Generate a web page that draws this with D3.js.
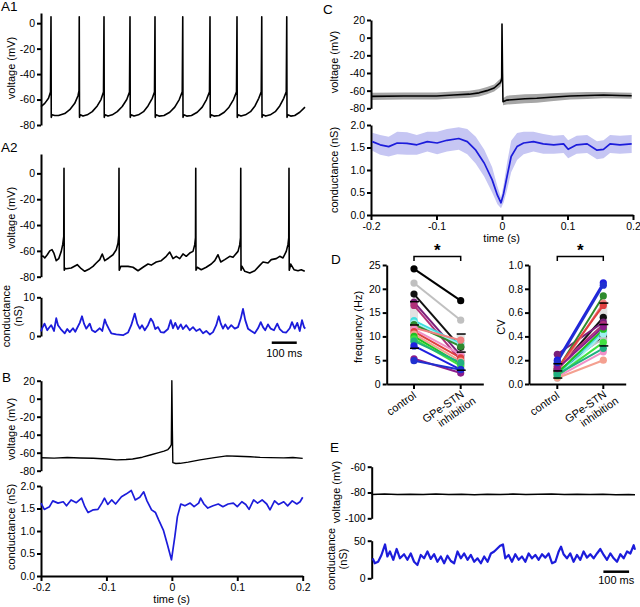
<!DOCTYPE html>
<meta charset="utf-8">
<script src="https://d3js.org/d3.v7.min.js"></script>
<style>
body { margin: 0; background: #fff; }
text { font-family: "Liberation Sans", Arial, sans-serif; fill: #000; }
.axis path, .axis line { stroke: #000; stroke-width: 2; }
.axis text { font-size: 10.5px; }
.lab { font-size: 11px; }
.plab { font-size: 13.5px; }
.star { font-size: 17px; font-weight: bold; }
</style>
<div id="fig"></div>
<script>

// ---- data ----

// A1: regular firing, [time ms, voltage mV]
const a1V = [
  [0,-65.5],[15,-63],[30,-59],[38,-54],[40,5],[41,-74],[44,-72],[55,-72.5],[70,-72.5],[95,-71],[115,-68],[135,-63],[148,-57],[152,-53],
  [153,5],[154,-74],[157,-72],[168,-73],[185,-72],[205,-69.5],[225,-65],[240,-60],[250,-54],
  [252,5],[253,-74],[256,-72],[268,-73],[285,-72],[305,-69.5],[325,-65.5],[343,-60],[354,-54],
  [356,5],[357,-74],[360,-72],[372,-73],[390,-72],[410,-69.5],[428,-65],[445,-59],[454,-54],
  [456,5],[457,-74],[460,-72],[472,-73],[492,-72.5],[515,-70],[535,-66],[553,-60],[565,-54],
  [567,5],[568,-74],[571,-72],[583,-73],[602,-72.5],[625,-70],[645,-66],[662,-60],[674,-54],
  [676,5],[677,-74],[680,-72],[692,-73],[712,-72.5],[733,-70],[752,-66],[770,-60],[782,-54],
  [784,5],[785,-74],[788,-72],[800,-73],[818,-72],[838,-69.5],[856,-65],[871,-59],[881,-54],
  [883,5],[884,-74],[887,-72],[899,-73],[917,-72],[937,-69.5],[955,-65],[971,-59],[981,-54],
  [983,5],[984,-74],[987,-72],[999,-73],[1015,-72.5],[1035,-70],[1056,-66]
];

// A2: irregular firing, [time ms, voltage mV]
const a2V = [
  [0,-64.5],[8,-64],[15,-65.5],[25,-63],[35,-60],[44,-59],[52,-62],[61,-67.6],[71,-66],[81,-60.4],[87,-55],[91,-49],
  [92,4],[93,-75],[96,-73.5],[101,-73.8],[121,-73.3],[145,-70.7],[161,-73.8],[175,-75.8],[195,-73.8],[208,-72],[221,-69.4],
  [235,-66.8],[245,-62.4],[255,-67.6],[271,-65.5],[288,-63],[301,-59.1],[308,-54],[311,-48],
  [312,4],[313,-75],[319,-72],[348,-72],[368,-72.7],[388,-75.4],[408,-72.7],[428,-70.2],[441,-71],[461,-68.6],[481,-67.6],
  [501,-64.2],[515,-60.9],[528,-66],[541,-64.2],[555,-66],[568,-62.4],[581,-64.2],[595,-61.7],[608,-60.4],[615,-55.2],[618,-50],
  [619,4],[620,-75],[625,-72.7],[641,-74.6],[661,-72.7],[681,-70.2],[695,-67.6],[708,-63],[719,-68.6],[735,-66.8],[755,-64.2],
  [768,-65],[788,-60.4],[795,-55.2],[798,-50],
  [799,4],[800,-75],[804,-72],[815,-75.8],[835,-77.1],[855,-75.4],[875,-71.2],[888,-68.6],[908,-69.4],[921,-66.8],[941,-66],
  [955,-64.2],[968,-65.5],[981,-60.4],[988,-55],[991,-50],
  [992,4],[993,-75],[999,-70.2],[1012,-74.6],[1028,-75.4],[1041,-74.6],[1055,-75.8]
];

// A2: conductance, [time ms, nS]
const a2G = [
  [0,1.2],[4,1.9],[14,3.2],[25,1.5],[33,2.2],[41,2.8],[52,1.3],[61,4.6],[68,2.8],[79,1.8],[95,0.7],[105,1.8],[115,1.0],[128,2.0],
  [137,1.1],[155,3.4],[164,5.1],[172,3.2],[181,1.9],[195,3.2],[204,1.5],[217,1.0],[235,2.0],[245,1.3],[255,4.3],[261,3.2],
  [271,1.9],[281,0.7],[301,0.4],[328,0.2],[348,0.9],[361,2.8],[375,5.8],[385,3.2],[395,1.9],[404,2.8],[415,1.5],[428,2.8],
  [439,4.5],[448,3.6],[457,1.8],[468,2.3],[479,1.0],[492,0.9],[508,1.8],[519,4.1],[528,2.0],[537,3.4],[548,1.8],[559,3.0],
  [568,1.8],[581,2.8],[595,1.5],[608,2.3],[621,1.3],[635,1.8],[648,0.7],[661,1.3],[675,0.4],[688,1.0],[701,2.8],[711,5.1],
  [719,3.2],[728,1.9],[737,3.0],[748,1.8],[761,2.8],[775,1.9],[788,2.3],[799,4.5],[808,7.0],[817,4.1],[828,1.9],[841,1.3],
  [855,0.7],[868,2.0],[879,3.6],[888,2.3],[897,1.5],[908,3.0],[919,1.9],[932,1.5],[945,3.2],[955,1.8],[968,1.0],[981,0.9],
  [995,2.0],[1004,3.6],[1015,1.9],[1025,3.4],[1035,1.3],[1044,4.1],[1052,2.3],[1057,1.9]
];

// B: spike-triggered voltage, [time s, mV]
const bV = [
  [-0.2,-65.6],[-0.18,-66],[-0.16,-65.4],[-0.14,-65.9],[-0.12,-66.2],[-0.1,-67],[-0.084,-68],[-0.07,-67.6],[-0.06,-67],
  [-0.045,-65],[-0.033,-62.6],[-0.02,-60],[-0.012,-58.3],[-0.006,-56.5],[-0.003,-54],[-0.0008,-51],[0,20],[0.0008,-35],
  [0.0015,-71],[0.006,-72],[0.0126,-71.8],[0.025,-70.5],[0.043,-68],[0.065,-65.5],[0.084,-63.5],[0.1,-64],[0.12,-64.5],
  [0.135,-65.2],[0.15,-65.5],[0.171,-65.8],[0.185,-65.4],[0.2,-66.3]
];

// B: spike-triggered conductance, [time s, nS]
const bG = [
  [-0.2,1.62],[-0.195,1.48],[-0.187,1.54],[-0.182,1.67],[-0.174,1.62],[-0.166,1.65],[-0.161,1.56],[-0.154,1.69],[-0.146,1.63],
  [-0.138,1.73],[-0.133,1.54],[-0.128,1.41],[-0.12,1.47],[-0.113,1.48],[-0.107,1.62],[-0.103,1.73],[-0.098,1.59],[-0.092,1.69],
  [-0.086,1.6],[-0.077,1.76],[-0.07,1.82],[-0.062,1.9],[-0.056,1.69],[-0.049,1.75],[-0.043,1.87],[-0.038,1.67],[-0.031,1.47],
  [-0.025,1.41],[-0.02,1.24],[-0.013,1.02],[-0.0066,0.69],[-0.0006,0.36],[0.0045,0.87],[0.0085,1.32],[0.0137,1.6],[0.02,1.56],
  [0.028,1.62],[0.034,1.54],[0.041,1.62],[0.044,1.73],[0.049,1.6],[0.055,1.51],[0.063,1.56],[0.071,1.6],[0.078,1.54],
  [0.086,1.6],[0.094,1.62],[0.1,1.54],[0.107,1.65],[0.113,1.59],[0.118,1.48],[0.125,1.69],[0.131,1.62],[0.138,1.69],
  [0.145,1.6],[0.15,1.47],[0.157,1.67],[0.163,1.59],[0.171,1.65],[0.177,1.56],[0.184,1.67],[0.191,1.6],[0.196,1.65],[0.2,1.75]
];

// C: population mean voltage, [time s, mV, sd]
const cV = [
  [-0.2,-66.5,4],[-0.15,-66,4],[-0.1,-66,4],[-0.074,-65,4],[-0.05,-64,4],[-0.035,-62.5,4],[-0.023,-60,4],[-0.012,-57,4],
  [-0.0026,-51,4.5],[-0.0005,-47,4],[0,15.5,1],[0.0008,-40,4],[0.0015,-72.5,4],[0.0076,-70.7,5],[0.02,-70,5],[0.035,-69.2,5],
  [0.053,-68.7,5],[0.075,-67.5,4.5],[0.104,-66,4],[0.13,-65.5,4],[0.155,-65,3.5],[0.18,-65.5,3.5],[0.198,-65.8,3.5]
];

// C: population mean conductance, [time s, nS, sd]
const cG = [
  [-0.198,1.63,0.2],[-0.186,1.56,0.22],[-0.173,1.52,0.22],[-0.16,1.6,0.25],[-0.145,1.59,0.25],[-0.13,1.56,0.22],
  [-0.114,1.63,0.22],[-0.099,1.6,0.25],[-0.084,1.66,0.25],[-0.066,1.7,0.25],[-0.053,1.63,0.28],[-0.04,1.44,0.3],
  [-0.027,1.15,0.3],[-0.015,0.78,0.28],[-0.007,0.44,0.2],[-0.0015,0.27,0.12],[0.0025,0.48,0.2],[0.0076,0.85,0.3],
  [0.014,1.3,0.35],[0.023,1.52,0.3],[0.033,1.6,0.25],[0.048,1.63,0.22],[0.063,1.58,0.22],[0.079,1.56,0.2],[0.094,1.58,0.2],
  [0.101,1.46,0.2],[0.114,1.56,0.2],[0.13,1.58,0.2],[0.145,1.44,0.2],[0.155,1.46,0.2],[0.165,1.58,0.2],[0.18,1.56,0.2],
  [0.198,1.58,0.2]
];

// D: paired cells, control vs GPe-STN inhibition
const dColors = ["#000000","#c0c0c0","#111111","#7a1f7a","#b0307a","#40e0e0","#9ff0f0","#2e8b2e","#f08080",
                 "#f090c8","#e04040","#f4a090","#20c020","#40e040","#20b080","#1f1fe0","#8b1c8b","#2030d0"];
const freqCtrl = [24.2,21.2,18.9,17.2,16.5,13.3,12.8,12.5,11.8,11.5,11.0,10.5,10.0,9.5,9.0,8.0,5.3,4.9];
const freqInh  = [17.5,13.4,7.7,6.0,5.0,8.5,8.2,7.9,9.2,6.2,5.5,4.8,4.2,3.8,4.5,3.0,2.3,3.0];
const cvCtrl = [0.10,0.15,0.12,0.25,0.15,0.08,0.05,0.12,0.10,0.06,0.13,0.05,0.09,0.07,0.08,0.20,0.13,0.18];
const cvInh  = [0.40,0.38,0.56,0.52,0.50,0.44,0.42,0.74,0.68,0.27,0.66,0.20,0.46,0.35,0.30,0.85,0.48,0.83];
const freqMean = [12.4, 6.7], freqSd = [4.9, 3.8];
const cvMean = [0.11, 0.50], cvSd = [0.06, 0.18];
const dCats = ["control", "GPe-STN"];

// E: hyperpolarised cell, [time ms, mV] and [time ms, nS]
const eV = [
  [0,-81.5],[50,-81.2],[100,-81.6],[150,-81.3],[200,-81.5],[250,-81.1],[300,-81.6],[350,-81.4],[400,-81.7],[450,-81.3],
  [500,-81.5],[550,-81.2],[600,-81.6],[650,-81.4],[700,-81.2],[750,-81.5],[800,-81.3],[850,-81.6],[900,-81.4],[950,-81.7],
  [1000,-81.5],[1025,-81.8]
];
const eG = [
  [4,26.6],[12,20],[25,22],[38,31],[52,45],[61,29],[71,35.7],[84,24.6],[97,39],[110,26.6],[126,32],[139,24.6],[152,33],
  [165,22],[178,17.7],[191,31],[204,26.6],[217,35.7],[230,25.7],[243,32],[256,22],[269,29],[282,20],[295,30],[308,23],
  [321,20],[334,35.7],[347,26.6],[360,33],[373,24.6],[386,31],[399,22],[412,26.6],[425,20],[438,29],[451,22],[464,33],
  [477,35.7],[490,40],[500,43.4],[511,45],[520,26.6],[533,31],[546,22],[559,32],[572,24.6],[585,29],[598,22],[611,33],
  [624,26.6],[637,31],[650,24.6],[663,32],[676,27.5],[689,33],[702,20],[715,22],[728,35.7],[737,42],[747,32],[760,26.6],
  [773,33],[786,22],[799,31],[812,24.6],[825,35.7],[838,27.5],[851,32],[864,26.6],[877,33],[890,39],[903,31],[916,24.6],
  [929,33],[942,26.6],[955,22],[968,32],[981,26.6],[994,35.7],[1007,33],[1020,44],[1025,38]
];

// ---- drawing ----
const blue = "#1c1cdb";
const svg = d3.select("#fig").append("svg").attr("width", 640).attr("height", 607);

function yAxis(scale, x, ticks, fmt) {
  svg.append("g").attr("class", "axis").attr("transform", `translate(${x},0)`)
    .call(d3.axisLeft(scale).tickValues(ticks).tickSizeInner(4).tickSizeOuter(0).tickPadding(2).tickFormat(fmt));
}
function xAxis(scale, y, ticks, fmt) {
  svg.append("g").attr("class", "axis").attr("transform", `translate(0,${y})`)
    .call(d3.axisBottom(scale).tickValues(ticks).tickSizeInner(5).tickSizeOuter(0).tickPadding(3).tickFormat(fmt));
}
function trace(data, xs, ys, color, w) {
  svg.append("path").datum(data).attr("fill", "none").attr("stroke", color).attr("stroke-width", w)
    .attr("stroke-linejoin", "round")
    .attr("d", d3.line().x(d => xs(d[0])).y(d => ys(d[1])));
}
function band(data, xs, ys, color) {
  svg.append("path").datum(data).attr("fill", color).attr("stroke", "none")
    .attr("d", d3.area().x(d => xs(d[0])).y0(d => ys(d[1] - d[2])).y1(d => ys(d[1] + d[2])));
}
function yLabel(lines, x, y) {
  const t = svg.append("text").attr("class", "lab").attr("text-anchor", "middle")
    .attr("transform", `translate(${x},${y}) rotate(-90)`);
  lines.forEach((s, i) => t.append("tspan").attr("x", 0).attr("dy", i === 0 ? 0 : "1.1em").text(s));
}
function label(s, x, y, cls, anchor) {
  svg.append("text").attr("class", cls).attr("x", x).attr("y", y).attr("text-anchor", anchor || "start").text(s);
}
const str = d => String(d);
const f1 = d => d.toFixed(1);
const ft = d => d === 0 ? "0" : d.toFixed(1);

// A1
const xA = d3.scaleLinear().domain([0, 1056]).range([41, 305]);
const yA1 = d3.scaleLinear().domain([-80, 8]).range([125, 13]);
yAxis(yA1, 41, [-80, -60, -40, -20, 0], str);
trace(a1V, xA, yA1, "#000", 1.6);
yLabel(["voltage (mV)"], 15, 68);
label("A1", 1, 11, "plab");

// A2
const yA2 = d3.scaleLinear().domain([-80, 15]).range([276.7, 154]);
yAxis(yA2, 41, [-80, -60, -40, -20, 0], str);
trace(a2V, xA, yA2, "#000", 1.6);
yLabel(["voltage (mV)"], 15, 218);
label("A2", 1, 152, "plab");

const yA2g = d3.scaleLinear().domain([0, 10]).range([336, 297.3]);
yAxis(yA2g, 41, [0, 10], str);
trace(a2G, xA, yA2g, blue, 1.8);
yLabel(["conductance", "(nS)"], 10, 316);
svg.append("line").attr("x1", xA(923)).attr("x2", xA(1023)).attr("y1", 342.7).attr("y2", 342.7)
  .attr("stroke", "#000").attr("stroke-width", 2.5);
label("100 ms", (xA(923) + xA(1023)) / 2, 357, "lab", "middle");

// B
const xB = d3.scaleLinear().domain([-0.2, 0.2]).range([41, 302.7]);
const yBv = d3.scaleLinear().domain([-80, 20]).range([470.7, 380.7]);
const yBg = d3.scaleLinear().domain([0, 2]).range([576, 486]);
yAxis(yBv, 41, [-80, -60, -40, -20, 0, 20], str);
yAxis(yBg, 41, [0, 0.5, 1, 1.5, 2], f1);
xAxis(xB, 576, [-0.2, -0.1, 0, 0.1, 0.2], ft);
trace(bV, xB, yBv, "#000", 1.4);
trace(bG, xB, yBg, blue, 1.7);
yLabel(["voltage (mV)"], 15, 429);
yLabel(["conductance (nS)"], 15, 527);
label("time (s)", 171.7, 603, "lab", "middle");
label("B", 2, 381.5, "plab");

// C
const xC = d3.scaleLinear().domain([-0.2, 0.2]).range([371, 633]);
const yCv = d3.scaleLinear().domain([-80, 20]).range([108.3, 20]);
const yCg = d3.scaleLinear().domain([0, 2]).range([215, 125]);
band(cV, xC, yCv, "#a6a6a6");
band(cG, xC, yCg, "#c6c6f3");
yAxis(yCv, 371, [-80, -60, -40, -20, 0, 20], str);
yAxis(yCg, 371, [0, 0.5, 1, 1.5, 2], f1);
xAxis(xC, 215, [-0.2, -0.1, 0, 0.1, 0.2], ft);
trace(cV, xC, yCv, "#000", 1.6);
trace(cG, xC, yCg, blue, 1.7);
yLabel(["voltage (mV)"], 338, 62);
yLabel(["conductance (nS)"], 338, 170);
label("time (s)", 501.7, 242, "lab", "middle");
label("C", 323, 13.5, "plab");

// D
function pairPanel(x0, x1, pos, y, ctrl, inh, mean, sd, ticks, fmt, name, nameX) {
  const xs = d3.scalePoint().domain(dCats).range(pos);
  yAxis(y, x0, ticks, fmt);
  svg.append("g").attr("class", "axis").attr("transform", `translate(0,384)`)
    .call(d3.axisBottom(d3.scaleLinear().domain([0, 1]).range([x0, x1])).tickValues([]).tickSizeOuter(0));
  svg.append("g").selectAll("line").data(dCats).join("line")
    .attr("x1", d => xs(d)).attr("x2", d => xs(d)).attr("y1", 384).attr("y2", 389)
    .attr("stroke", "#000").attr("stroke-width", 2);
  // mean ± sd boxes
  svg.append("g").selectAll("rect").data(dCats).join("rect")
    .attr("x", d => xs(d) - 4).attr("width", 8)
    .attr("y", (d, i) => y(mean[i] + sd[i])).attr("height", (d, i) => y(mean[i] - sd[i]) - y(mean[i] + sd[i]))
    .attr("fill", "#e2e2e2");
  const idx = d3.range(ctrl.length);
  svg.append("g").selectAll("line").data(idx).join("line")
    .attr("x1", xs("control")).attr("x2", xs("GPe-STN"))
    .attr("y1", i => y(ctrl[i])).attr("y2", i => y(inh[i]))
    .attr("stroke", i => dColors[i]).attr("stroke-width", 2);
  svg.append("g").selectAll("circle").data(idx.flatMap(i => [[i, 0], [i, 1]])).join("circle")
    .attr("cx", d => xs(dCats[d[1]])).attr("cy", d => y(d[1] === 0 ? ctrl[d[0]] : inh[d[0]]))
    .attr("r", 3.6).attr("fill", d => dColors[d[0]]);
  const dash = [];
  dCats.forEach((c, i) => [mean[i] - sd[i], mean[i], mean[i] + sd[i]].forEach(v => dash.push([c, v])));
  svg.append("g").selectAll("line").data(dash).join("line")
    .attr("x1", d => xs(d[0]) - 4).attr("x2", d => xs(d[0]) + 5)
    .attr("y1", d => y(d[1])).attr("y2", d => y(d[1]))
    .attr("stroke", "#000").attr("stroke-width", 1.5);
  // significance bracket
  svg.append("path").attr("fill", "none").attr("stroke", "#000").attr("stroke-width", 1.5)
    .attr("d", `M${xs("control")},${261} V${256.5} H${xs("GPe-STN")} V${261}`);
  label("*", (pos[0] + pos[1]) / 2, 256, "star", "middle");
  // category labels
  svg.append("text").attr("class", "lab").attr("text-anchor", "end")
    .attr("transform", `translate(${xs("control") + 3},${397}) rotate(-35)`).text("control");
  const t = svg.append("text").attr("class", "lab").attr("text-anchor", "end")
    .attr("transform", `translate(${xs("GPe-STN") + 4},${396}) rotate(-35)`);
  t.append("tspan").attr("x", 0).text("GPe-STN");
  t.append("tspan").attr("x", 6).attr("dy", "1.1em").text("inhibition");
  yLabel([name], nameX, 327);
}
const yDf = d3.scaleLinear().domain([0, 25]).range([384, 265]);
const yDc = d3.scaleLinear().domain([0, 1]).range([384, 265]);
pairPanel(386.7, 483.3, [414, 460.7], yDf, freqCtrl, freqInh, freqMean, freqSd, [0, 5, 10, 15, 20, 25], str, "frequency (Hz)", 362);
pairPanel(529, 625.7, [557.3, 603.3], yDc, cvCtrl, cvInh, cvMean, cvSd, [0, 0.2, 0.4, 0.6, 0.8, 1], f1, "CV", 505);
label("D", 331, 264, "plab");

// E
const xE = d3.scaleLinear().domain([0, 1025]).range([371.7, 635]);
const yEv = d3.scaleLinear().domain([-100, -60]).range([518.3, 466.7]);
const yEg = d3.scaleLinear().domain([0, 50]).range([578.3, 540.7]);
yAxis(yEv, 371.7, [-100, -80, -60], str);
yAxis(yEg, 371.7, [0, 50], str);
trace(eV, xE, yEv, "#000", 1.5);
trace(eG, xE, yEg, blue, 2.2);
yLabel(["voltage (mV)"], 340, 492);
yLabel(["conductance", "(nS)"], 335, 559);
svg.append("line").attr("x1", xE(902)).attr("x2", xE(1002)).attr("y1", 571.7).attr("y2", 571.7)
  .attr("stroke", "#000").attr("stroke-width", 2.5);
label("100 ms", (xE(902) + xE(1002)) / 2, 584, "lab", "middle");
label("E", 330, 452, "plab");

</script>
